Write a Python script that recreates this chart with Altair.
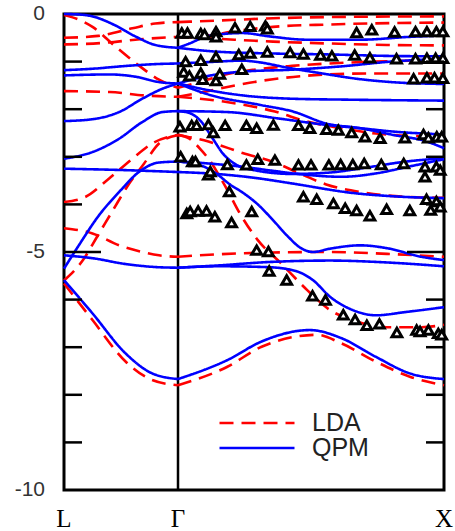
import altair as alt
import pandas as pd

# k-path coordinate: L = 0, Gamma = 0.3, X = 1 ; energies in eV
# ---------------- QPM (blue, solid) ----------------
QPM_LG1 = ([0, 0.04, 0.075, 0.135, 0.19, 0.24, 0.30], [0.0, -0.01, -0.05, -0.24, -0.48, -0.65, -0.71])
QPM_LG2 = ([0, 0.075, 0.165, 0.25, 0.30], [-1.18, -1.15, -1.09, -1.05, -1.04])
QPM_LG3 = ([0, 0.12, 0.19, 0.25, 0.30], [-1.29, -1.27, -1.32, -1.43, -1.46])
QPM_LG4 = ([0, 0.075, 0.145, 0.206, 0.259, 0.30], [-2.25, -2.21, -2.06, -1.78, -1.57, -1.46])
QPM_LG5 = ([0, 0.075, 0.145, 0.206, 0.259, 0.30], [-3.04, -2.90, -2.62, -2.27, -2.06, -2.04])
QPM_LG6 = ([0, 0.16, 0.30], [-3.25, -3.28, -3.32])
QPM_LG7 = ([0, 0.039, 0.092, 0.145, 0.197, 0.25, 0.30], [-5.35, -4.86, -4.23, -3.74, -3.32, -3.12, -3.10])
QPM_LG8 = ([0, 0.075, 0.16, 0.25, 0.30], [-5.07, -5.13, -5.25, -5.32, -5.33])
QPM_LG9 = ([0, 0.075, 0.162, 0.232, 0.30], [-5.59, -6.29, -7.13, -7.55, -7.67])

QPM_GX1 = ([0.30, 0.33, 0.38, 0.47, 0.54, 0.64, 0.78, 0.91, 1.0], [-0.71, -0.62, -0.46, -0.40, -0.47, -0.54, -0.54, -0.48, -0.45])
QPM_GX2 = ([0.30, 0.40, 0.55, 0.70, 0.85, 1.0], [-0.71, -0.79, -0.83, -0.85, -0.88, -0.89])
QPM_GX3 = ([0.30, 0.38, 0.47, 0.51, 0.59, 0.68, 0.77, 0.86, 1.0], [-1.04, -1.01, -0.98, -1.01, -1.13, -1.25, -1.36, -1.43, -1.47])
QPM_GX4 = ([0.30, 0.38, 0.47, 0.60, 0.73, 0.86, 1.0], [-1.46, -1.30, -1.21, -1.17, -1.10, -1.00, -0.94])
QPM_GX5 = ([0.30, 0.38, 0.47, 0.60, 0.75, 1.0], [-1.46, -1.60, -1.71, -1.78, -1.80, -1.82])
QPM_GX6 = ([0.30, 0.384, 0.516, 0.603, 0.69, 0.78, 0.866, 0.955, 1.0], [-1.46, -1.70, -1.91, -2.05, -2.30, -2.40, -2.54, -2.68, -2.82])
QPM_GX7 = ([0.30, 0.43, 0.56, 0.69, 0.78, 0.866, 1.0], [-2.04, -2.06, -2.19, -2.33, -2.40, -2.47, -2.53])
QPM_GX8 = ([0.30, 0.33, 0.36, 0.39, 0.42, 0.45, 0.50, 0.60, 0.70, 0.80, 0.90, 1.0], [-2.04, -2.08, -2.25, -2.60, -2.95, -3.15, -3.28, -3.36, -3.33, -3.22, -3.10, -3.03])
QPM_GX9 = ([0.30, 0.38, 0.47, 0.555, 0.64, 0.73, 0.82, 0.905, 1.0], [-3.10, -3.14, -3.21, -3.30, -3.38, -3.42, -3.35, -3.21, -3.05])
QPM_GX10 = ([0.30, 0.40, 0.50, 0.60, 0.76, 0.89, 1.0], [-3.32, -3.36, -3.44, -3.56, -3.76, -3.84, -3.87])
QPM_GX11 = ([0.30, 0.36, 0.40, 0.44, 0.47, 0.51, 0.55, 0.59, 0.62, 0.655, 0.70, 0.78, 0.85, 0.94, 1.0],
            [-3.10, -3.18, -3.35, -3.60, -3.75, -4.00, -4.33, -4.68, -4.90, -5.00, -4.93, -4.86, -4.92, -5.10, -5.17])
QPM_GX12 = ([0.30, 0.41, 0.54, 0.70, 0.85, 1.0], [-5.33, -5.28, -5.21, -5.18, -5.22, -5.30])
QPM_GX13 = ([0.30, 0.41, 0.54, 0.61, 0.655, 0.70, 0.76, 0.82, 0.90, 1.0], [-5.33, -5.30, -5.32, -5.40, -5.59, -5.94, -6.22, -6.33, -6.26, -6.16])
QPM_GX14 = ([0.30, 0.43, 0.52, 0.647, 0.73, 0.82, 0.91, 1.0], [-7.67, -7.27, -6.88, -6.64, -6.81, -7.20, -7.55, -7.67])

# ---------------- LDA (red, dashed) ----------------
LDA_LG1 = ([0, 0.04, 0.075, 0.135, 0.195, 0.25, 0.30], [-0.02, -0.12, -0.27, -0.68, -1.07, -1.38, -1.55])
LDA_LG2 = ([0, 0.09, 0.18, 0.24, 0.30], [-0.50, -0.46, -0.30, -0.20, -0.17])
LDA_LG3 = ([0, 0.10, 0.20, 0.30], [-0.64, -0.61, -0.53, -0.48])
LDA_LG4 = ([0, 0.12, 0.21, 0.30], [-1.62, -1.64, -1.71, -1.74])
LDA_LG5 = ([0, 0.057, 0.118, 0.18, 0.232, 0.30], [-3.95, -3.84, -3.46, -3.04, -2.72, -2.54])
LDA_LG6 = ([0, 0.05, 0.087, 0.129, 0.166, 0.21, 0.25, 0.30], [-5.60, -5.17, -4.68, -4.12, -3.63, -3.15, -2.72, -2.54])
LDA_LG7 = ([0, 0.075, 0.145, 0.206, 0.25, 0.30], [-4.50, -4.61, -4.86, -5.00, -5.07, -5.10])
LDA_LG8 = ([0, 0.075, 0.162, 0.232, 0.30], [-5.66, -6.43, -7.30, -7.69, -7.80])

LDA_GX1 = ([0.30, 0.40, 0.55, 0.75, 1.0], [-0.17, -0.14, -0.09, -0.06, -0.05])
LDA_GX2 = ([0.30, 0.38, 0.45, 0.55, 0.70, 1.0], [-0.48, -0.45, -0.36, -0.27, -0.22, -0.18])
LDA_GX3 = ([0.30, 0.40, 0.55, 0.70, 0.85, 1.0], [-0.48, -0.52, -0.58, -0.62, -0.65, -0.66])
LDA_GX4 = ([0.30, 0.36, 0.42, 0.50, 0.60, 0.75, 1.0], [-1.55, -1.42, -1.28, -1.17, -1.09, -1.02, -0.97])
LDA_GX5 = ([0.30, 0.36, 0.45, 0.55, 0.65, 0.80, 1.0], [-1.74, -1.65, -1.50, -1.37, -1.29, -1.25, -1.25])
LDA_GX6 = ([0.30, 0.42, 0.555, 0.64, 0.73, 0.82, 1.0], [-1.74, -1.84, -2.05, -2.26, -2.40, -2.51, -2.58])
LDA_GX7 = ([0.30, 0.38, 0.47, 0.555, 0.62, 0.69, 0.78, 0.90, 1.0], [-2.54, -2.68, -2.92, -3.12, -3.35, -3.58, -3.74, -3.84, -3.86])
LDA_GX8 = ([0.30, 0.33, 0.36, 0.39, 0.41, 0.43, 0.46, 0.51, 0.57, 0.64, 0.70, 0.76, 0.85, 0.94, 1.0],
           [-2.54, -2.62, -2.85, -3.15, -3.42, -3.70, -4.15, -4.75, -5.23, -5.80, -6.22, -6.43, -6.58, -6.58, -6.53])
LDA_GX9 = ([0.30, 0.40, 0.55, 0.70, 0.85, 1.0], [-5.10, -5.05, -5.01, -5.00, -5.04, -5.10])
LDA_GX10 = ([0.30, 0.43, 0.52, 0.666, 0.73, 0.82, 0.91, 1.0], [-7.80, -7.41, -6.99, -6.74, -6.92, -7.30, -7.62, -7.80])

# ---------------- experiment (triangles) ----------------
EXP_K = [0.31, 0.325, 0.36, 0.37, 0.40, 0.40, 0.45, 0.49, 0.53, 0.535, 0.77, 0.81, 0.87, 0.925, 0.955, 0.98, 0.997,
         0.32, 0.36, 0.40, 0.46, 0.49, 0.535, 0.595, 0.63, 0.675, 0.705, 0.765, 0.805, 0.875, 0.925, 0.955, 0.978, 0.997,
         0.315, 0.33, 0.36, 0.365, 0.40, 0.41, 0.468, 0.92, 0.955, 0.975, 0.997,
         0.305, 0.336, 0.349, 0.38, 0.393, 0.424, 0.48, 0.507, 0.551, 0.617, 0.647, 0.691, 0.722, 0.757, 0.792, 0.832, 0.897, 0.946, 0.959, 0.981, 0.994,
         0.307, 0.338, 0.346, 0.38, 0.385, 0.43, 0.48, 0.51, 0.555, 0.617, 0.65, 0.697, 0.728, 0.76, 0.79, 0.835, 0.894, 0.95, 0.98, 0.99, 0.95,
         0.435, 0.323, 0.332, 0.353, 0.375, 0.397, 0.441, 0.494,
         0.63, 0.665, 0.709, 0.74, 0.77, 0.805, 0.849, 0.91, 0.954, 0.965, 0.98, 0.99,
         0.507, 0.538, 0.54, 0.586, 0.654, 0.688, 0.735, 0.766, 0.797, 0.83, 0.876, 0.928, 0.937, 0.959, 0.985, 0.994]
EXP_E = [-0.40, -0.40, -0.41, -0.43, -0.37, -0.48, -0.29, -0.26, -0.25, -0.31, -0.39, -0.33, -0.38, -0.37, -0.37, -0.37, -0.37,
         -1.00, -0.97, -0.90, -0.85, -0.82, -0.80, -0.81, -0.84, -0.86, -0.88, -0.86, -0.92, -0.94, -0.94, -0.93, -0.93, -0.93,
         -1.22, -1.30, -1.24, -1.37, -1.40, -1.26, -1.16, -1.36, -1.34, -1.34, -1.35,
         -2.37, -2.34, -2.34, -2.32, -2.49, -2.34, -2.34, -2.40, -2.33, -2.34, -2.40, -2.42, -2.44, -2.49, -2.58, -2.61, -2.60, -2.53, -2.60, -2.58, -2.58,
         -3.00, -3.10, -3.10, -3.38, -3.31, -3.16, -3.17, -3.05, -3.07, -3.17, -3.17, -3.17, -3.16, -3.16, -3.14, -3.16, -3.14, -3.21, -3.21, -3.28, -3.42,
         -3.73, -4.19, -4.15, -4.14, -4.14, -4.26, -4.38, -4.15,
         -3.84, -3.89, -3.98, -4.08, -4.13, -4.24, -4.10, -4.13, -3.89, -4.12, -3.94, -4.05,
         -4.96, -4.99, -5.40, -5.59, -5.92, -6.01, -6.32, -6.42, -6.54, -6.51, -6.69, -6.64, -6.67, -6.64, -6.71, -6.74]

Y_TICK_VALUES = [0, -5, -10]
Y_TICK_LABELS = ["0", "-5", "-10"]
MINOR_TICKS = [-1, -2, -3, -4, -6, -7, -8, -9]
MAJOR_TICKS = [-5]
K_POINTS = [0.0, 0.3, 1.0]
K_LABELS = ["L", "\u0393", "X"]

QPM_LINES = [QPM_LG1, QPM_LG2, QPM_LG3, QPM_LG4, QPM_LG5, QPM_LG6, QPM_LG7, QPM_LG8, QPM_LG9,
             QPM_GX1, QPM_GX2, QPM_GX3, QPM_GX4, QPM_GX5, QPM_GX6, QPM_GX7, QPM_GX8, QPM_GX9,
             QPM_GX10, QPM_GX11, QPM_GX12, QPM_GX13, QPM_GX14]
LDA_LINES = [LDA_LG1, LDA_LG2, LDA_LG3, LDA_LG4, LDA_LG5, LDA_LG6, LDA_LG7, LDA_LG8,
             LDA_GX1, LDA_GX2, LDA_GX3, LDA_GX4, LDA_GX5, LDA_GX6, LDA_GX7, LDA_GX8, LDA_GX9, LDA_GX10]


def to_rows(model, lines):
    rows = []
    for n, (ks, es) in enumerate(lines):
        for i, (k, e) in enumerate(zip(ks, es)):
            rows.append({"model": model, "series": f"{model}{n}", "k": k, "E": e, "i": i})
    return pd.DataFrame(rows)


lda_df = to_rows("LDA", LDA_LINES)
qpm_df = to_rows("QPM", QPM_LINES)
exp_df = pd.DataFrame({"k": EXP_K, "E": EXP_E})

xs = alt.Scale(domain=[0, 1], nice=False, zero=False)
ys = alt.Scale(domain=[-10, 0], nice=False, zero=False)

leg = alt.Legend(title=None, orient="none", legendX=154, legendY=399, symbolType="stroke",
                 symbolSize=5625, symbolStrokeWidth=2.6, labelFontSize=25, labelFont="Liberation Sans",
                 labelColor="#222222", labelOffset=16, clipHeight=20, rowPadding=0, padding=0)
color = alt.Color("model:N", scale=alt.Scale(domain=["LDA", "QPM"], range=["#ff0000", "#0000ff"]), legend=leg)
dash = alt.StrokeDash("model:N", scale=alt.Scale(domain=["LDA", "QPM"], range=[[14, 8], [1, 0]]), legend=leg)


def band_layer(df):
    return alt.Chart(df).mark_line(interpolate="monotone", strokeWidth=2.6).encode(
        x=alt.X("k:Q", scale=xs, axis=None),
        y=alt.Y("E:Q", scale=ys, axis=None),
        detail="series:N",
        order="i:Q",
        color=color,
        strokeDash=dash,
    )


lda = band_layer(lda_df)
qpm = band_layer(qpm_df)

gamma = alt.Chart(pd.DataFrame({"k": [K_POINTS[1]]})).mark_rule(color="black", strokeWidth=2.5).encode(
    x=alt.X("k:Q", scale=xs, axis=None))

exp = alt.Chart(exp_df).mark_point(shape="triangle-up", size=95, filled=True, fill="white",
                                   stroke="black", strokeWidth=3, opacity=1).encode(
    x=alt.X("k:Q", scale=xs, axis=None), y=alt.Y("E:Q", scale=ys, axis=None))

minor_df = pd.DataFrame({"E": MINOR_TICKS})
major_df = pd.DataFrame({"E": MAJOR_TICKS})
tick_l_minor = alt.Chart(minor_df).mark_rule(color="black", strokeWidth=2.5).encode(
    y=alt.Y("E:Q", scale=ys, axis=None), x=alt.value(0), x2=alt.value(18))
tick_r_minor = alt.Chart(minor_df).mark_rule(color="black", strokeWidth=2.5).encode(
    y=alt.Y("E:Q", scale=ys, axis=None), x=alt.value(362), x2=alt.value(380))
tick_l_major = alt.Chart(major_df).mark_rule(color="black", strokeWidth=2.5).encode(
    y=alt.Y("E:Q", scale=ys, axis=None), x=alt.value(0), x2=alt.value(37))
tick_r_major = alt.Chart(major_df).mark_rule(color="black", strokeWidth=2.5).encode(
    y=alt.Y("E:Q", scale=ys, axis=None), x=alt.value(343), x2=alt.value(380))

ylab = alt.Chart(pd.DataFrame({"E": Y_TICK_VALUES, "t": Y_TICK_LABELS})).mark_text(
    align="right", baseline="middle", font="Liberation Sans", fontSize=21, color="#333333").encode(
    y=alt.Y("E:Q", scale=ys, axis=None), x=alt.value(-19), text="t:N")

xlab = alt.Chart(pd.DataFrame({"k": K_POINTS, "t": K_LABELS})).mark_text(
    align="center", baseline="alphabetic", font="Liberation Serif", fontSize=25, color="black").encode(
    x=alt.X("k:Q", scale=xs, axis=None), y=alt.value(513), text="t:N")

chart = alt.layer(gamma, lda, qpm, exp, tick_l_minor, tick_r_minor, tick_l_major, tick_r_major, ylab, xlab).properties(
    width=380, height=476,
    autosize=alt.AutoSizeParams(type="none"),
    padding={"left": 64, "top": 14, "right": 11, "bottom": 41},
    background="white",
).configure_view(stroke="black", strokeWidth=3)

chart.save("out.html", embed_options={"renderer": "svg", "actions": False})
